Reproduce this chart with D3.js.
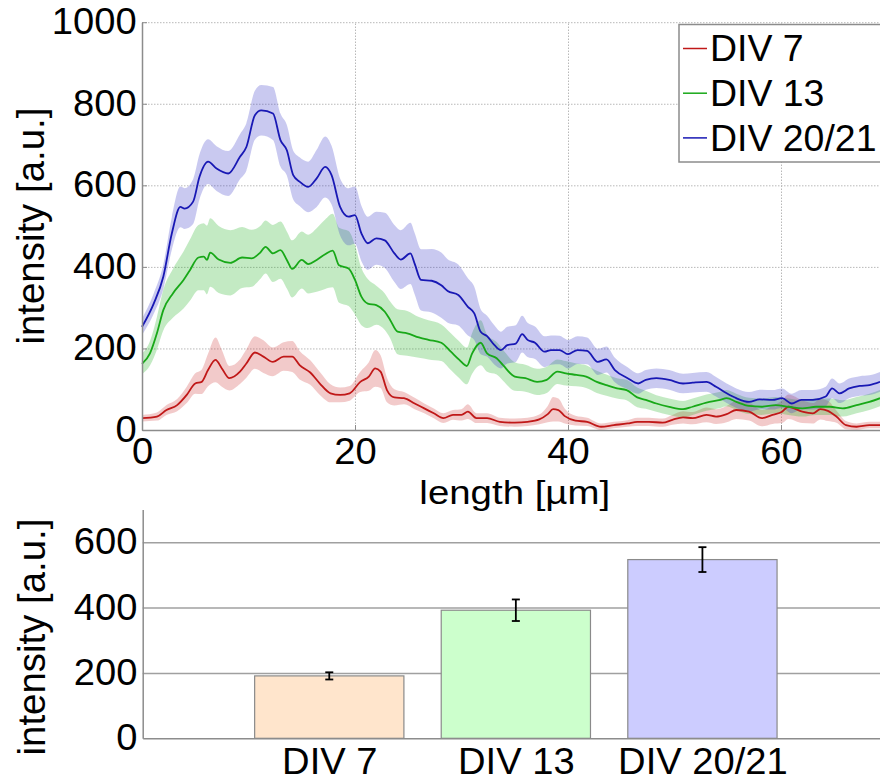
<!DOCTYPE html>
<html>
<head>
<meta charset="utf-8">
<script src="https://cdn.jsdelivr.net/npm/d3@7"></script>
<style>
  body { margin: 0; background: #fff; }
  svg { display: block; font-family: "Liberation Sans", Arial, sans-serif; }
</style>
</head>
<body>
<svg width="880" height="783"></svg>
<script>
// profile data (length in um, intensity mean and error)
const redX = [0,1.4,2.3,3.3,4.2,5,5.6,6.2,6.9,7.5,8.2,9.2,9.8,10.6,11.4,12.3,13.3,14.1,14.8,15.8,16.7,17.7,18.6,19.5,20.5,21.3,21.9,22.4,23,23.7,24.6,25.6,26.5,27.4,28.3,29.2,30,30.6,31.4,32.4,33.6,35,36.2,37.3,38.1,38.6,39.1,39.7,40.7,41.8,43.1,44.3,45.6,46.5,47.6,48.9,49.8,50.8,51.7,53,53.9,54.9,55.8,57,58.2,59.2,60.1,60.7,62,63,63.7,64.4,65.2,66.1,67.1,68.3,69.3];
const redMean = [29,33,49,61,86,114,118,147,172,151,127,143,163,190,180,167,180,180,159,141,114,90,86,90,118,131,151,143,98,80,78,65,53,41,29,37,37,45,29,29,20,18,20,26,39,51,49,34,23,20,8,12,16,20,20,18,25,31,29,37,33,39,49,45,29,37,45,57,45,41,51,47,33,12,8,12,12];
const redErr = [8,10,12,15,20,25,30,40,55,45,30,30,35,40,40,35,35,38,35,30,28,22,18,18,25,35,45,40,30,20,15,14,12,12,12,12,14,18,12,12,10,10,10,12,20,30,28,18,12,10,8,8,8,10,10,10,12,15,15,18,18,20,22,22,20,22,28,30,28,25,25,25,15,10,8,8,8];

const greenX = [0,0.75,1.4,2,2.9,3.9,4.5,5.3,5.8,6.1,6.4,7.2,8.3,9.4,10.3,11.1,11.6,12.3,13,13.6,14.1,15,15.6,16.4,17.2,17.9,18.5,19.4,20,20.6,21.2,22,22.8,23.3,24,24.9,26,26.9,28.1,29,29.8,30.5,31,31.8,32.4,33.3,33.9,35,36,37.1,38,39,39.8,40.8,41.7,42.7,43.6,44.6,45.5,46.5,47.3,48.3,49.5,50.8,51.7,53,54.3,54.9,55.8,57,58.2,59.5,60.7,62,63.3,64.6,65.8,67.1,68.3,69.3];
const greenMean = [162,188,237,294,335,368,392,423,425,417,435,418,410,423,421,435,449,433,441,417,395,417,407,417,431,440,404,396,368,327,310,306,290,270,241,237,227,221,214,192,172,157,188,214,188,176,159,131,127,118,123,143,139,135,131,118,110,102,98,80,74,65,57,51,57,67,74,78,69,59,57,61,57,53,57,57,53,61,69,78];
const greenErr = [25,30,40,50,60,70,75,80,82,84,84,82,80,75,70,65,65,70,70,70,70,70,72,78,85,90,92,92,85,70,60,48,45,45,55,55,50,48,45,45,45,45,50,55,45,40,38,35,33,32,32,30,30,28,28,27,26,25,25,24,22,20,20,20,20,20,20,20,20,20,20,20,20,20,20,20,20,20,20,20];

const blueX = [0,1.1,2,2.8,3.6,4,4.8,5.4,6.2,7,8.1,9.2,9.8,10.6,11.2,12.3,13,13.6,14.2,14.8,15.6,16.4,17.2,17.8,18.6,19.4,20,20.6,21.2,22,22.8,23.7,24.3,25.2,25.6,26.2,27.2,28.1,28.7,29.7,30.6,31.2,31.8,32.4,33.1,33.7,34.3,35.1,35.7,36.2,36.9,37.8,38.4,39.2,40,40.9,41.8,42.8,43.6,44.4,45.6,46.6,47.3,48.3,49.5,50.8,51.7,53,53.9,54.9,55.8,57,58,59.2,60.1,61,61.9,63,64.2,64.8,65.5,66.4,67.4,68.3,69.3];
const blueMean = [253,310,376,482,547,543,560,621,658,641,629,670,694,772,784,776,711,686,625,609,596,617,645,625,547,523,527,482,458,470,465,433,418,433,408,368,366,355,341,331,302,286,241,230,208,196,208,212,235,221,214,192,196,196,186,196,194,167,173,147,127,114,123,127,123,114,116,118,106,90,78,69,75,74,78,65,74,74,82,102,90,102,108,110,118];
const blueErr = [20,25,30,40,50,50,55,55,55,55,55,55,58,60,62,65,65,62,60,60,62,70,75,72,70,70,70,68,65,65,68,70,72,75,75,75,78,80,78,75,70,65,55,50,48,45,45,45,45,42,40,38,36,35,35,34,33,32,32,30,27,25,24,24,24,24,24,24,24,24,24,24,24,24,24,24,24,24,24,24,24,24,24,24,24];

const seriesNames = ["DIV 7", "DIV 13", "DIV 20/21"];
const lineColors = ["#c01818", "#18a818", "#1818b4"];
const bandColors = ["#d04040", "#28b428", "#3c3cc8"];

// bar chart data
const barCats = ["DIV 7", "DIV 13", "DIV 20/21"];
const barValues = [191, 392, 547];
const barErrors = [11, 33, 38];
const barColors = ["#ffe5cc", "#ccffcc", "#ccccff"];

const xTicksTop = [0, 20, 40, 60];
const yTicksTop = [0, 200, 400, 600, 800, 1000];
const yTicksBottom = [0, 200, 400, 600];

const svg = d3.select('svg');
const FONT = 36;
const SX = 1.06;   // the original figure is slightly wider than tall

// ---------- top chart ----------
const TOP = {left: 142, right: 887.5, top: 22.2, bottom: 430};
const x = d3.scaleLinear().domain([0, 70]).range([TOP.left, TOP.right]);
const y = d3.scaleLinear().domain([0, 1000]).range([TOP.bottom, TOP.top]);

const topChart = svg.append('g');

// dotted grid
topChart.append('g')
  .attr('transform', `translate(0, ${TOP.bottom})`)
  .call(d3.axisBottom(x).tickValues(xTicksTop.slice(1)).tickSize(-(TOP.bottom - TOP.top)).tickFormat(''))
  .call(g => g.select('.domain').remove())
  .selectAll('line').attr('stroke', '#b8b8b8').attr('stroke-dasharray', '1.5,1.5');
topChart.append('g')
  .attr('transform', `translate(${TOP.left}, 0)`)
  .call(d3.axisLeft(y).tickValues(yTicksTop.slice(1)).tickSize(-(TOP.right - TOP.left)).tickFormat(''))
  .call(g => g.select('.domain').remove())
  .selectAll('line').attr('stroke', '#b8b8b8').attr('stroke-dasharray', '1.5,1.5');

const series = [
  {x: redX, mean: redMean, err: redErr},
  {x: greenX, mean: greenMean, err: greenErr},
  {x: blueX, mean: blueMean, err: blueErr}
].map((s, k) => ({
  name: seriesNames[k],
  points: s.x.map((v, i) => ({x: v, m: s.mean[i], e: s.err[i]}))
}));

const area = d3.area()
  .x(d => x(d.x))
  .y0(d => y(Math.max(0, d.m - d.e)))
  .y1(d => y(d.m + d.e))
  .curve(d3.curveMonotoneX);
const line = d3.line()
  .x(d => x(d.x))
  .y(d => y(d.m))
  .curve(d3.curveMonotoneX);

topChart.selectAll('.band')
  .data(series)
  .enter()
  .append('path')
  .attr('class', 'band')
  .attr('d', d => area(d.points))
  .attr('fill', (d, i) => bandColors[i])
  .attr('fill-opacity', 0.28);

topChart.selectAll('.curve')
  .data(series)
  .enter()
  .append('path')
  .attr('class', 'curve')
  .attr('d', d => line(d.points))
  .attr('fill', 'none')
  .attr('stroke', (d, i) => lineColors[i])
  .attr('stroke-width', 1.8);

// axes
const xAxisTop = topChart.append('g')
  .attr('transform', `translate(0, ${TOP.bottom})`)
  .call(d3.axisBottom(x).tickValues(xTicksTop).tickSizeInner(-5).tickSizeOuter(0).tickPadding(8));
const yAxisTop = topChart.append('g')
  .attr('transform', `translate(${TOP.left}, 0)`)
  .call(d3.axisLeft(y).tickValues(yTicksTop).tickFormat(d3.format('d')).tickSizeInner(-5).tickSizeOuter(0).tickPadding(5));
[xAxisTop, yAxisTop].forEach(a => {
  a.select('.domain').attr('stroke', '#8c8c8c').attr('stroke-width', 1.5);
  a.selectAll('line').attr('stroke', '#8c8c8c');
  a.selectAll('text').attr('font-size', FONT).attr('fill', '#000').attr('transform', `scale(${SX},1)`);
  a.attr('font-family', null);
});

topChart.append('text')
  .text('length [µm]')
  .attr('transform', `translate(${(TOP.left + TOP.right) / 2}, 504) scale(1.13,1)`)
  .attr('text-anchor', 'middle')
  .attr('font-size', 34);

topChart.append('text')
  .text('intensity [a.u.]')
  .attr('transform', `translate(44, ${(TOP.top + TOP.bottom) / 2}) rotate(-90)`)
  .attr('text-anchor', 'middle')
  .attr('font-size', 38.4);

// legend
const legend = topChart.append('g');
legend.append('rect')
  .attr('x', 679).attr('y', 24.5)
  .attr('width', 220).attr('height', 137.5)
  .attr('fill', '#fff')
  .attr('stroke', '#8c8c8c')
  .attr('stroke-width', 1.5);
const legendRows = legend.selectAll('.row')
  .data(seriesNames)
  .enter()
  .append('g')
  .attr('class', 'row')
  .attr('transform', (d, i) => `translate(0, ${48.5 + i * 44.7})`);
legendRows.append('line')
  .attr('x1', 683).attr('x2', 707)
  .attr('stroke', (d, i) => lineColors[i])
  .attr('stroke-width', 1.5);
legendRows.append('text')
  .text(d => d)
  .attr('transform', 'translate(710, 0) scale(1.04,1)')
  .attr('dy', '0.36em')
  .attr('font-size', 36);

// ---------- bottom chart ----------
const BOT = {left: 142.7, right: 889, top: 509.6, bottom: 738.3};
const xb = d3.scaleLinear().domain([0, 4]).range([BOT.left, BOT.right]);
const yb = d3.scaleLinear().domain([0, 700]).range([BOT.bottom, BOT.top]);
const barW = xb(0.8) - xb(0);

const bot = svg.append('g');

bot.append('g')
  .attr('transform', `translate(${BOT.left}, 0)`)
  .call(d3.axisLeft(yb).tickValues(yTicksBottom.slice(1)).tickSize(-(BOT.right - BOT.left)).tickFormat(''))
  .call(g => g.select('.domain').remove())
  .selectAll('line').attr('stroke', '#a0a0a0').attr('stroke-width', 1.5);

bot.selectAll('.bar')
  .data(barValues)
  .enter()
  .append('rect')
  .attr('class', 'bar')
  .attr('x', (d, i) => xb(i + 1) - barW / 2)
  .attr('y', d => yb(d))
  .attr('width', barW)
  .attr('height', d => BOT.bottom - yb(d))
  .attr('fill', (d, i) => barColors[i])
  .attr('stroke', '#8a8a8a')
  .attr('stroke-width', 1.2);

const errG = bot.selectAll('.err')
  .data(barValues)
  .enter()
  .append('g')
  .attr('class', 'err')
  .attr('stroke', '#000')
  .attr('stroke-width', 1.8);
errG.append('line')
  .attr('x1', (d, i) => xb(i + 1)).attr('x2', (d, i) => xb(i + 1))
  .attr('y1', (d, i) => yb(d - barErrors[i])).attr('y2', (d, i) => yb(d + barErrors[i]));
errG.append('line')
  .attr('x1', (d, i) => xb(i + 1) - 4).attr('x2', (d, i) => xb(i + 1) + 4)
  .attr('y1', (d, i) => yb(d - barErrors[i])).attr('y2', (d, i) => yb(d - barErrors[i]));
errG.append('line')
  .attr('x1', (d, i) => xb(i + 1) - 4).attr('x2', (d, i) => xb(i + 1) + 4)
  .attr('y1', (d, i) => yb(d + barErrors[i])).attr('y2', (d, i) => yb(d + barErrors[i]));

const xAxisBot = bot.append('g')
  .attr('transform', `translate(0, ${BOT.bottom})`)
  .call(d3.axisBottom(xb).tickValues([1, 2, 3]).tickFormat(i => barCats[i - 1]).tickSize(0).tickPadding(10));
const yAxisBot = bot.append('g')
  .attr('transform', `translate(${BOT.left}, 0)`)
  .call(d3.axisLeft(yb).tickValues(yTicksBottom).tickSize(0).tickPadding(5));
[xAxisBot, yAxisBot].forEach(a => {
  a.select('.domain').attr('stroke', '#8c8c8c').attr('stroke-width', 1.5);
  a.selectAll('text').attr('font-size', FONT).attr('fill', '#000').attr('transform', `scale(${SX},1)`);
  a.attr('font-family', null);
});

bot.append('text')
  .text('intensity [a.u.]')
  .attr('transform', `translate(45, 637) rotate(-90)`)
  .attr('text-anchor', 'middle')
  .attr('font-size', 38.4);
</script>
</body>
</html>
